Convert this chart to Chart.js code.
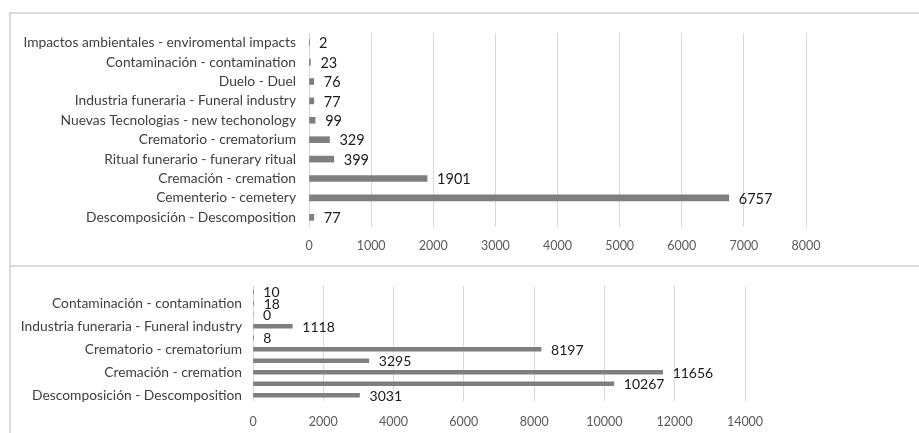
<!DOCTYPE html>
<html>
<head>
<meta charset="utf-8">
<script src="https://cdn.jsdelivr.net/npm/chart.js@4/dist/chart.umd.min.js"></script>
<style>
  html, body { margin: 0; padding: 0; background: #fff; }
  #wrap { position: relative; width: 919px; height: 433px; overflow: hidden; background: #fff; }
  .panel { position: absolute; left: 0; width: 919px; }
  canvas { display: block; }
  .rule { position: absolute; background: #d9d9d9; }
</style>
</head>
<body>
<div id="wrap">
  <div class="panel" style="top:0;height:266px"><canvas id="topChart" width="919" height="266"></canvas></div>
  <div class="panel" style="top:266px;height:167px"><canvas id="bottomChart" width="919" height="167"></canvas></div>
  <div class="rule" style="left:9px;top:12px;width:910px;height:2px"></div>
  <div class="rule" style="left:9px;top:12px;width:2px;height:421px"></div>
  <div class="rule" style="left:9px;top:265px;width:910px;height:2px"></div>
</div>
<script>
// Categories, listed top to bottom
const categories = [
  'Impactos ambientales - enviromental impacts',
  'Contaminación - contamination',
  'Duelo - Duel',
  'Industria funeraria - Funeral industry',
  'Nuevas Tecnologias - new techonology',
  'Crematorio - crematorium',
  'Ritual funerario - funerary ritual',
  'Cremación - cremation',
  'Cementerio - cemetery',
  'Descomposición - Descomposition'
];
const topValues = [2, 23, 76, 77, 99, 329, 399, 1901, 6757, 77];
const bottomValues = [10, 18, 0, 1118, 8, 8197, 3295, 11656, 10267, 3031];
const topTicks = [0, 1000, 2000, 3000, 4000, 5000, 6000, 7000, 8000];
const bottomTicks = [0, 2000, 4000, 6000, 8000, 10000, 12000, 14000];

const FONT = 'Lato, "Liberation Sans", sans-serif';
const BAR_COLOR = '#7f7f7f';

// Writes each bar's value just past its end
const valueLabels = {
  id: 'valueLabels',
  afterDatasetsDraw(chart, args, opts) {
    const ctx = chart.ctx;
    const meta = chart.getDatasetMeta(0);
    const values = chart.data.datasets[0].data;
    ctx.save();
    ctx.font = opts.size + 'px ' + FONT;
    ctx.fillStyle = opts.color;
    ctx.textAlign = 'left';
    ctx.textBaseline = 'middle';
    meta.data.forEach((bar, i) => {
      ctx.fillText(String(values[i]), bar.x + opts.offset, bar.y + 1);
    });
    ctx.restore();
  }
};

function makeChart(id, values, ticks, cfg) {
  return new Chart(document.getElementById(id), {
    type: 'bar',
    data: {
      labels: categories,
      datasets: [{
        data: values,
        backgroundColor: BAR_COLOR,
        borderWidth: 0,
        barThickness: cfg.barThickness
      }]
    },
    options: {
      indexAxis: 'y',
      responsive: false,
      animation: false,
      events: [],
      layout: { padding: { top: cfg.padTop, right: cfg.padRight, bottom: 0, left: 0 } },
      plugins: {
        legend: { display: false },
        tooltip: { enabled: false },
        valueLabels: { size: cfg.valueSize, color: '#1a1a1a', offset: 10 }
      },
      scales: {
        x: {
          min: ticks[0],
          max: ticks[ticks.length - 1],
          afterBuildTicks(scale) { scale.ticks = ticks.map(v => ({ value: v })); },
          afterFit(scale) { scale.height = cfg.xHeight; },
          grid: { color: '#d9d9d9', lineWidth: 1, drawTicks: false },
          border: { display: false },
          ticks: {
            padding: cfg.xPad,
            color: '#595959',
            font: { family: FONT, size: 12.5 },
            maxRotation: 0,
            callback: v => String(v)
          }
        },
        y: {
          afterFit(scale) { scale.width = cfg.yWidth; },
          grid: { display: false, drawTicks: false },
          border: { display: false },
          ticks: {
            autoSkip: false,
            padding: cfg.yPad,
            color: '#404040',
            font: { family: FONT, size: 13.8 },
            callback: cfg.labelFn
          }
        }
      }
    },
    plugins: [valueLabels]
  });
}

makeChart('topChart', topValues, topTicks, {
  barThickness: 6, padTop: 33, padRight: 113, xHeight: 39, xPad: 11,
  yWidth: 309, yPad: 13, valueSize: 14.5,
  labelFn: (v, i) => categories[i]
});

// Lower panel: only every other category is named on the axis
makeChart('bottomChart', bottomValues, bottomTicks, {
  barThickness: 4, padTop: 20, padRight: 174, xHeight: 32, xPad: 13,
  yWidth: 253, yPad: 11, valueSize: 14,
  labelFn: (v, i) => (i % 2 === 1 ? categories[i] : '')
});
</script>
</body>
</html>
